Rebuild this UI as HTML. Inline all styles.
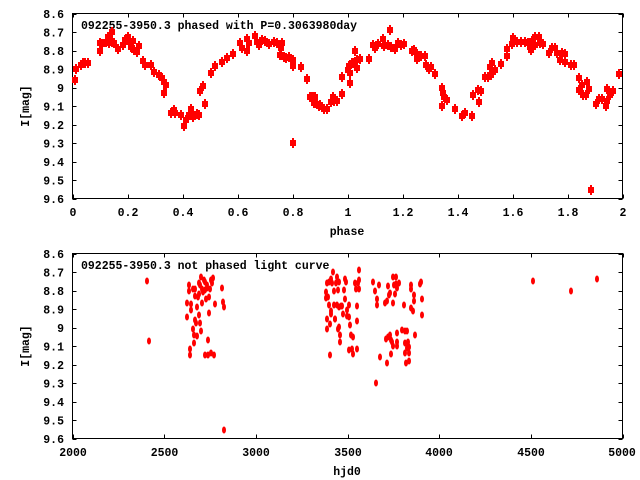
<!DOCTYPE html>
<html><head><meta charset="utf-8"><style>
html,body{margin:0;padding:0;background:#fff;}
svg{display:block;font-family:"Liberation Mono",monospace;font-weight:bold;font-size:11.5px;}
</style></head><body>
<svg id="s" width="640" height="480" xmlns="http://www.w3.org/2000/svg">
<rect width="640" height="480" fill="#fff"/>
<g id="ax" stroke="#000" stroke-width="1" fill="none">
<rect x="72.5" y="13.5" width="550" height="185"/>
<rect x="72.5" y="253.5" width="550" height="185"/>
</g>
<g fill="#000" text-anchor="end">
<text x="64" y="18">8.6</text><text x="64" y="36.5">8.7</text><text x="64" y="55">8.8</text><text x="64" y="73.5">8.9</text><text x="64" y="92">9</text><text x="64" y="110.5">9.1</text><text x="64" y="129">9.2</text><text x="64" y="147.5">9.3</text><text x="64" y="166">9.4</text><text x="64" y="184.5">9.5</text><text x="64" y="203">9.6</text>
<text x="64" y="258">8.6</text><text x="64" y="276.5">8.7</text><text x="64" y="295">8.8</text><text x="64" y="313.5">8.9</text><text x="64" y="332">9</text><text x="64" y="350.5">9.1</text><text x="64" y="369">9.2</text><text x="64" y="387.5">9.3</text><text x="64" y="406">9.4</text><text x="64" y="424.5">9.5</text><text x="64" y="443">9.6</text>
</g>
<g fill="#000" text-anchor="middle">
<text x="73" y="216">0</text><text x="128" y="216">0.2</text><text x="183" y="216">0.4</text><text x="238" y="216">0.6</text><text x="293" y="216">0.8</text><text x="348" y="216">1</text><text x="403" y="216">1.2</text><text x="458" y="216">1.4</text><text x="513" y="216">1.6</text><text x="568" y="216">1.8</text><text x="623" y="216">2</text>
<text x="73" y="456">2000</text><text x="164.5" y="456">2500</text><text x="256" y="456">3000</text><text x="348" y="456">3500</text><text x="439" y="456">4000</text><text x="531" y="456">4500</text><text x="622" y="456">5000</text>
<text x="347" y="235">phase</text><text x="347" y="475">hjd0</text>
<text transform="translate(29,106) rotate(-90)">I[mag]</text>
<text transform="translate(29,346) rotate(-90)">I[mag]</text>
</g>
<g fill="#000">
<text x="81" y="29">092255-3950.3 phased with P=0.3063980day</text>
<text x="81" y="269">092255-3950.3 not phased light curve</text>
</g>
<g id="pts" fill="#f00" stroke="none"></g>
</svg>
<script>
(function(){
var ns="http://www.w3.org/2000/svg",ax=document.getElementById("ax"),P=document.getElementById("pts");
function L(x1,y1,x2,y2){var l=document.createElementNS(ns,"line");l.setAttribute("x1",x1);l.setAttribute("y1",y1);l.setAttribute("x2",x2);l.setAttribute("y2",y2);ax.appendChild(l);}
[13.5,253.5].forEach(function(t){
for(var i=0;i<=10;i++){var y=Math.round(t+18.5*i)+0.5;L(72.5,y,76.5,y);L(622.5,y,618.5,y);}});
for(var i=0;i<=10;i++){var x=Math.round(72.5+55*i)+0.5;L(x,13.5,x,17.5);L(x,198.5,x,194.5);}
for(var i=0;i<=6;i++){var x=Math.round(72.5+91.67*i)+0.5;L(x,253.5,x,257.5);L(x,438.5,x,434.5);}
var tp=[75,80,76,69,81,65,83,63,85,63,88,63,100,51,100,43,102,44,106,42,108,37,109,43,112,32,112,42,114,43,118,49,123,45,125,40,128,37,129,42,131,47,133,41,134,50,137,52,139,46,143,61,145,65,151,65,154,72,159,75,162,78,164,82,166,85,164,93,171,113,174,110,175,113,181,115,184,126,186,120,189,115,191,109,193,117,197,114,199,115,200,91,203,86,205,104,211,73,215,66,222,62,227,58,233,54,240,43,242,48,247,51,247,39,249,43,255,36,257,42,259,45,262,40,265,41,269,44,274,42,277,43,280,55,281,48,282,43,284,57,286,58,289,57,293,60,293,66,293,143,301,67,307,79,312,97,314,97,315,103,319,106,
310,97,315,97,314,103,320,105,322,107,324,109,327,109,331,102,333,97,334,101,337,101,342,94,342,77,348,70,349,66,350,73,350,83,352,63,354,63,355,51,357,68,357,60,360,59,369,59,373,45,375,48,378,44,383,39,384,46,388,45,390,30,391,47,395,49,398,43,401,45,404,44,412,51,414,50,417,54,417,59,421,56,425,56,426,65,429,69,431,67,435,74,442,88,443,93,442,106,444,97,447,100,455,109,462,116,465,113,472,116,473,95,478,90,479,102,481,91,485,77,488,77,490,67,491,75,492,63,495,70,501,64,507,49,507,56,512,44,513,38,517,42,521,42,525,42,528,43,530,47,531,50,532,41,535,37,535,45,539,37,540,43,543,44,549,53,552,48,555,48,557,53,560,60,562,53,565,54,565,62,571,65,574,65,579,78,579,90,582,85,583,95,586,95,587,82,589,89,591,190,596,104,599,99,602,99,606,106,607,101,607,89,610,95,613,91,619,74];
for(var i=0;i<tp.length;i+=2){var x=tp[i],y=tp[i+1];
var r=document.createElementNS(ns,"rect");r.setAttribute("x",x-3);r.setAttribute("y",y-3);r.setAttribute("width",6);r.setAttribute("height",6);P.appendChild(r);
var r2=document.createElementNS(ns,"rect");r2.setAttribute("x",x-1);r2.setAttribute("y",y-5);r2.setAttribute("width",2);r2.setAttribute("height",10);P.appendChild(r2);}
var bt=[147,281,149,341,187,303,187,317,189,285,189,291,190,349,190,355,191,310,191,304,193,289,193,329,194,335,194,343,195,296,195,289,195,320,196,323,197,336,197,307,198,297,199,294,199,283,199,315,200,285,200,323,201,331,201,277,202,303,202,289,203,292,204,280,205,290,205,282,205,355,206,299,207,285,207,288,208,340,208,355,209,297,209,313,210,289,211,353,211,280,212,283,213,278,214,355,215,304,222,288,223,302,224,307,224,430,
326,292,326,298,327,283,327,319,327,329,328,297,329,282,329,305,330,355,330,324,331,314,331,279,331,311,332,283,333,272,334,291,334,305,335,319,335,319,336,283,337,277,337,305,338,329,338,290,339,307,339,282,339,327,340,335,340,342,341,306,342,306,343,314,344,290,345,299,345,279,346,282,347,310,347,316,349,305,349,317,350,325,351,335,349,350,352,349,353,337,353,354,355,283,356,289,357,306,357,321,358,283,359,289,357,349,359,270,359,280,373,282,375,291,377,305,377,299,379,285,380,357,385,303,386,339,387,363,387,301,388,337,388,286,389,295,390,293,390,335,391,340,391,354,392,342,393,346,393,277,393,303,394,285,395,294,396,277,396,284,397,333,397,342,397,346,397,288,399,283,376,383,402,330,404,305,405,331,405,353,405,343,406,363,407,348,407,331,408,342,409,347,409,353,409,361,411,285,411,289,411,308,413,311,414,295,414,301,415,335,420,284,421,282,422,299,422,315,533,281,571,291,597,279];
for(var i=0;i<bt.length;i+=2){var e=document.createElementNS(ns,"ellipse");e.setAttribute("cx",bt[i]);e.setAttribute("cy",bt[i+1]);e.setAttribute("rx",2);e.setAttribute("ry",3.5);P.appendChild(e);}
})();
</script>
</body></html>
